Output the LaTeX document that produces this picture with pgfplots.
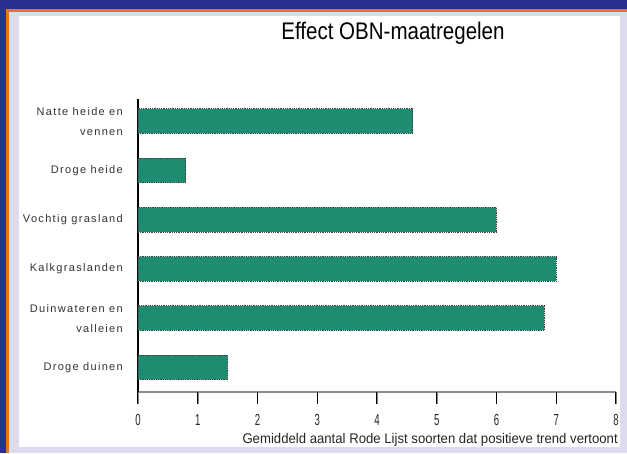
\documentclass[border=0pt]{standalone}
\usepackage{pgfplots}
\pgfplotsset{compat=1.18}
\usepackage{fontspec}
\setmainfont{Liberation Sans}
\newfontfamily\lblfont[LetterSpace=12]{Liberation Sans}
\definecolor{navyb}{RGB}{43,47,143}
\definecolor{orng}{RGB}{232,115,30}
\definecolor{lav}{RGB}{221,220,239}
\definecolor{teal1}{RGB}{30,140,112}
\begin{document}
\begin{tikzpicture}[x=1pt,y=1pt]
\useasboundingbox (0,0) rectangle (627,453);
\fill[navyb] (0,0) rectangle (627,453);
\fill[orng] (6,0) rectangle (627,444);
\fill[lav] (8.5,0) rectangle (627,441);
\fill[white] (19,6) rectangle (620,437);
\node at (393,420) {\scalebox{0.855}[1]{\fontsize{24}{26}\selectfont Effect OBN-maatregelen}};
\begin{axis}[
  scale only axis,
  width=478pt, height=293pt,
  at={(138pt,61pt)}, anchor=south west,
  xmin=0, xmax=8, ymin=-0.5, ymax=5.45,
  axis x line*=bottom, axis y line*=left,
  x axis line style={black!45, line width=2.5pt},
  y axis line style={black, line width=1.2pt},
  xtick={0,...,8},
  ytick={0,...,5},
  yticklabels={Droge duinen,{Duinwateren en\\valleien},Kalkgraslanden,Vochtig grasland,Droge heide,{Natte heide en\\vennen}},
  yticklabel style={align=right, font=\lblfont\fontsize{11}{20}\selectfont, text=black!80, inner sep=0pt, xshift=-3pt},
  ytick style={draw=none},
  tick align=outside,
  major tick length=12pt,
  xticklabel={\scalebox{0.6}[1]{\pgfmathprintnumber{\tick}}},
  xticklabel style={font=\fontsize{16}{16}\selectfont, text=black!85, inner sep=0pt, anchor=center, yshift=-16pt},
  /pgf/number format/assume math mode=true,
  xlabel={\scalebox{0.94}[1]{Gemiddeld aantal Rode Lijst soorten dat positieve trend vertoont}},
  xlabel style={at={(rel axis cs:1,0)}, anchor=base east, yshift=-51pt, xshift=2pt, font=\fontsize{14}{15}\selectfont, text=black!85, inner sep=0pt},
  xbar, bar width=0.5,
  clip=false,
]
\addplot[fill=teal1, draw=black!75, densely dotted, line width=0.8pt] coordinates {
  (1.5,0) (6.8,1) (7.0,2) (6.0,3) (0.8,4) (4.6,5)
};
\pgfplotsinvokeforeach{0,...,8}{
  \draw[black, line width=1pt] (axis cs:#1,-0.5) -- ([yshift=-12pt]axis cs:#1,-0.5);
}
\end{axis}
\end{tikzpicture}
\end{document}
